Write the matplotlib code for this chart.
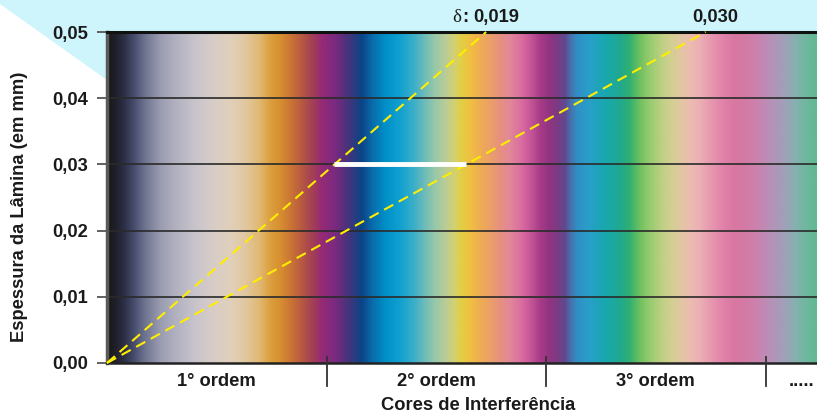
import numpy as np
import matplotlib
matplotlib.use("Agg")
import matplotlib.pyplot as plt
from matplotlib import transforms
from matplotlib.patches import Polygon
from matplotlib.colors import to_rgb

plt.rcParams['font.family'] = ['Liberation Sans', 'DejaVu Sans']

# ---- data ----
# interference colour stops: retardation (nm) -> colour
stop_nm = [0, 8, 25, 45, 70, 95, 133, 170, 220, 258, 308, 346, 383, 408, 433,
           471, 496, 521, 539, 571, 596, 621, 639, 664, 697, 734, 772, 797,
           822, 847, 872, 885, 910, 930, 960, 985, 1010, 1035, 1060, 1085,
           1110, 1130, 1148, 1165, 1180, 1210, 1248, 1285, 1310, 1336, 1361,
           1386, 1411, 1436, 1461, 1486, 1511, 1549, 1574, 1599, 1636, 1661,
           1699, 1724, 1749, 1780]
stop_colors = ['#161618', '#1a1a1e', '#222230', '#2e3148', '#4a5070', '#6e7490',
               '#9a9cb0', '#b0b0c0', '#c8c4cc', '#d6ccc8', '#e0d0bc', '#e2c8a0',
               '#e0b870', '#dca040', '#d89030', '#c46a38', '#b05048', '#a03a5c',
               '#952a78', '#7a2a80', '#54307a', '#2a3c80', '#0a4488', '#0a6aaa',
               '#0090c8', '#10a0d0', '#40b0c8', '#70bcb8', '#98c8a8', '#b8cc98',
               '#d4d070', '#e0d048', '#f0c040', '#f0b050', '#eca068', '#e89080',
               '#e08898', '#dc70a0', '#c85898', '#a83c88', '#903480', '#7a3c84',
               '#604890', '#4478b0', '#3090c8', '#28a0c8', '#18a8b0', '#20a890',
               '#30b070', '#70c060', '#98cc70', '#b8d080', '#d0d090', '#e0c8a0',
               '#ecbcb0', '#ecb0b4', '#e89ab0', '#e080a8', '#d878a0', '#d47aa4',
               '#c884b0', '#b890b8', '#a0a0b8', '#88b0b0', '#70b8a0', '#60b890']

x_max_nm = 1779
thickness_ticks = [0.00, 0.01, 0.02, 0.03, 0.04, 0.05]
thickness_labels = ['0,00', '0,01', '0,02', '0,03', '0,04', '0,05']
order_bounds = [0, 550, 1100, 1650]
order_labels = ['1° ordem', '2° ordem', '3° ordem']
more_label = '.....'
birefringence = [0.019, 0.030]
biref_labels = ['0,019', '0,030']
sample_thickness = 0.03
max_thickness = 0.05

FS = 13.2
TXT = '#1a1a1a'

# ---- figure ----
W, H = 817, 416
fig = plt.figure(figsize=(W / 100, H / 100), dpi=100)

# light cyan background shape at the top (behind everything)
bg = Polygon([(0, 1), (1, 1), (1, 1 - 32 / H), (107 / W, 1 - 32 / H),
              (107 / W, 1 - 80 / H), (0, 1 - 4 / H)],
             closed=True, transform=fig.transFigure, facecolor='#cdf5fb',
             edgecolor='none', zorder=-10)
fig.patches.append(bg)

ax = fig.add_axes([107 / W, 1 - 363 / H, 710 / W, 331 / H])
ax.set_zorder(1)
ax.patch.set_alpha(0)

# colour strip
grid_nm = np.linspace(0, x_max_nm, 1400)
rgb_stops = np.array([to_rgb(c) for c in stop_colors])
strip = np.stack([np.interp(grid_nm, stop_nm, rgb_stops[:, k]) for k in range(3)], axis=-1)
ax.imshow(strip[np.newaxis, :, :], extent=[0, x_max_nm, 0, max_thickness],
          aspect='auto', interpolation='bilinear', zorder=0)

ax.set_xlim(0, x_max_nm)
ax.set_ylim(0, max_thickness)

# horizontal gridlines
for t in thickness_ticks[1:-1]:
    ax.axhline(t, color='#2a2a2a', lw=1.2, zorder=2)

# birefringence lines
t_line = np.array([0, max_thickness])
for d in birefringence:
    ax.plot(d * t_line * 1e6, t_line, color='#ffee00', lw=1.5,
            dashes=(5, 3), zorder=4, clip_on=False)

# sample thickness white segment
ax.plot([birefringence[0] * sample_thickness * 1e6,
         birefringence[1] * sample_thickness * 1e6],
        [sample_thickness, sample_thickness], color='white', lw=3.5,
        solid_capstyle='butt', zorder=5)

# labels above the lines
for i, (d, lab) in enumerate(zip(birefringence, biref_labels)):
    xt = d * max_thickness * 1e6
    ax.annotate(lab, xy=(xt, max_thickness), xytext=(-9.4, 4.5),
                textcoords='offset points', ha='left', va='bottom',
                fontsize=FS, fontweight='bold', color=TXT,
                annotation_clip=False)
    if i == 0:
        ax.annotate(':', xy=(xt, max_thickness), xytext=(-12.5, 4.5),
                    textcoords='offset points', ha='right', va='bottom',
                    fontsize=FS, fontweight='bold', color=TXT,
                    annotation_clip=False)
        ax.annotate('δ', xy=(xt, max_thickness), xytext=(-18.0, 4.5),
                    textcoords='offset points', ha='right', va='bottom',
                    fontsize=FS + 0.5, family='Liberation Serif', color=TXT,
                    annotation_clip=False)

# spines
ax.spines['right'].set_visible(False)
ax.spines['top'].set_color('#111111')
ax.spines['top'].set_linewidth(2.2)
ax.spines['bottom'].set_color('#222222')
ax.spines['bottom'].set_linewidth(1.8)
ax.spines['left'].set_color('#5a5a5a')
ax.spines['left'].set_linewidth(2.5)

# y ticks
ax.set_yticks(thickness_ticks)
ax.set_yticklabels(thickness_labels)
ax.tick_params(axis='y', length=7.2, width=1.3, color='#555555', pad=6.3,
               labelsize=FS)
for lbl in ax.get_yticklabels():
    lbl.set_fontweight('bold')
    lbl.set_color(TXT)

# x: order separators and labels
ax.set_xticks([])
trans = transforms.blended_transform_factory(ax.transData, ax.transAxes)
for b in order_bounds[1:]:
    ax.plot([b, b], [0.018, -0.07], transform=trans, color='#333333',
            lw=1.3, clip_on=False, zorder=6)
for lo, hi, lab in zip(order_bounds[:-1], order_bounds[1:], order_labels):
    ax.text((lo + hi) / 2, -0.057, lab, transform=trans, ha='center',
            va='center', fontsize=FS, fontweight='bold', color=TXT)
ax.text(x_max_nm - 6, -0.057, more_label, transform=trans, ha='right',
        va='center', fontsize=FS, fontweight='bold', color=TXT,
        clip_on=False)

fig.text(478 / W, 1 - 406 / H, 'Cores de Interferência', ha='center',
         va='center', fontsize=FS, fontweight='bold', color=TXT)
fig.text(20 / W, 1 - 207 / H, 'Espessura da Lâmina (em mm)', ha='center',
         va='center', rotation=90, fontsize=FS, fontweight='bold',
         color=TXT)

fig.savefig('out.png', dpi=100, facecolor='white')
